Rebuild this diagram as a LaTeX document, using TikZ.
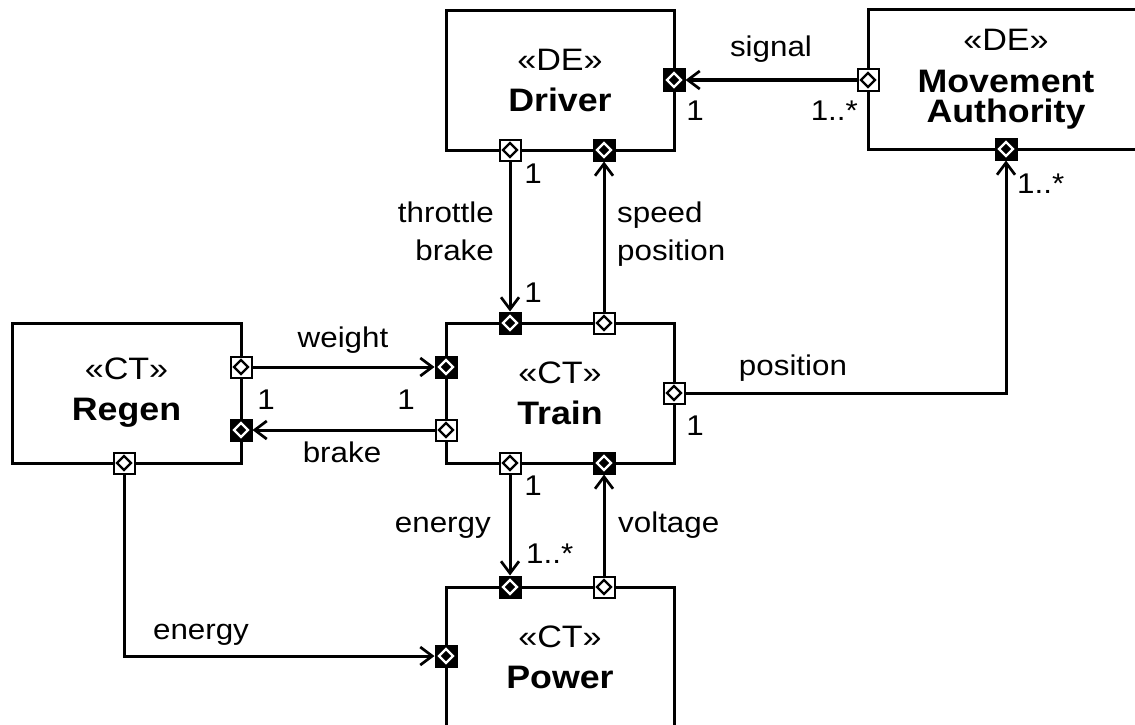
\documentclass[tikz,border=0pt]{standalone}
\usepackage{fontspec}
\setmainfont{Liberation Sans}[FakeStretch=1.1]
\usetikzlibrary{arrows.meta}
\newcommand\blkname[1]{{\fontsize{32.5}{41}\selectfont\bfseries #1}}
\begin{document}
\begin{tikzpicture}[x=1pt,y=-1pt,
  block/.style={draw, line width=3pt, fill=white, minimum width=228pt, minimum height=140pt, align=center, inner sep=0pt, font=\fontsize{31}{41}\selectfont},
  portw/.style={draw, line width=2pt, fill=white, minimum size=21pt, inner sep=0pt,
    path picture={\draw[black,line width=2.3pt] (path picture bounding box.center) ++(0,7pt) -- ++(7pt,-7pt) -- ++(-7pt,-7pt) -- ++(-7pt,7pt) -- cycle;}},
  portb/.style={draw, line width=2pt, fill=black, minimum size=21pt, inner sep=0pt,
    path picture={\draw[white,line width=2.3pt] (path picture bounding box.center) ++(0,7pt) -- ++(7pt,-7pt) -- ++(-7pt,-7pt) -- ++(-7pt,7pt) -- cycle;}},
  conn/.style={line width=3pt, -{Straight Barb[length=12pt,width=18pt,line width=2.7pt]}},
  lbl/.style={inner sep=0pt, font=\fontsize{28.5}{38}\selectfont}]
\useasboundingbox (0,0) rectangle (1135,725);
% blocks
\node[block] (drv) at (560,80.5) {«DE»\\\blkname{Driver}};
\node[block, minimum width=276pt, minimum height=139pt, font=\fontsize{31}{30}\selectfont] (ma) at (1006,79.5) {«DE»\\[12pt]\blkname{Movement}\\\blkname{Authority}};
\node[block] (trn) at (560,393) {«CT»\\\blkname{Train}};
\node[block, minimum width=229pt] (rgn) at (126.5,393) {«CT»\\\blkname{Regen}};
\node[block] (pwr) at (560,657) {«CT»\\\blkname{Power}};
% ports
\node[portw] (dB1) at (510,150) {};
\node[portb] (dB2) at (604,150) {};
\node[portb] (dR) at (674,80) {};
\node[portw] (maL) at (868,80) {};
\node[portb] (maB) at (1006,149) {};
\node[portb] (tT1) at (510,323) {};
\node[portw] (tT2) at (604,323) {};
\node[portb] (tL1) at (446,367) {};
\node[portw] (tL2) at (446,430) {};
\node[portw] (tR) at (674,393) {};
\node[portw] (tB1) at (510,463) {};
\node[portb] (tB2) at (604,463) {};
\node[portw] (rR1) at (241,367) {};
\node[portb] (rR2) at (241,430) {};
\node[portw] (rB) at (124,463) {};
\node[portb] (pT1) at (510,587) {};
\node[portw] (pT2) at (604,587) {};
\node[portb] (pL) at (446,656) {};
% connectors
\draw[conn] (dB1) -- (tT1);
\draw[conn] (tT2) -- (dB2);
\draw[conn] (maL) -- (dR);
\draw[conn] (tR) -| (maB);
\draw[conn] (rR1) -- (tL1);
\draw[conn] (tL2) -- (rR2);
\draw[conn] (tB1) -- (pT1);
\draw[conn] (pT2) -- (tB2);
\draw[conn] (rB) |- (pL);
% labels
\node[lbl, anchor=base] (lsig) at (771,57) {signal};
\node[lbl, anchor=base] (m1) at (695,120) {1};
\node[lbl, anchor=base east] (m2) at (858,120) {1..*};
\node[lbl, anchor=base west] (m3) at (1017,193) {1..*};
\node[lbl, anchor=base] (m4) at (533,183) {1};
\node[lbl, anchor=east, align=right] (lthr) at (494,231) {throttle\\brake};
\node[lbl, anchor=base] (m5) at (533,302) {1};
\node[lbl, anchor=west, align=left] (lspd) at (617,234) {speed\\position};
\node[lbl, anchor=base] (lpos) at (793,375) {position};
\node[lbl, anchor=base] (m6) at (695,435) {1};
\node[lbl, anchor=base] (lwgt) at (343,347) {weight};
\node[lbl, anchor=base] (m7) at (266,409) {1};
\node[lbl, anchor=base] (m8) at (406,409) {1};
\node[lbl, anchor=base] (lbrk) at (342,462) {brake};
\node[lbl, anchor=base] (m9) at (533,495) {1};
\node[lbl, anchor=base west] (m10) at (526,563) {1..*};
\node[lbl, anchor=base east] (leng) at (491,532) {energy};
\node[lbl, anchor=base west] (lvolt) at (618,532) {voltage};
\node[lbl, anchor=base] (leng2) at (201,639) {energy};
\end{tikzpicture}
\end{document}
